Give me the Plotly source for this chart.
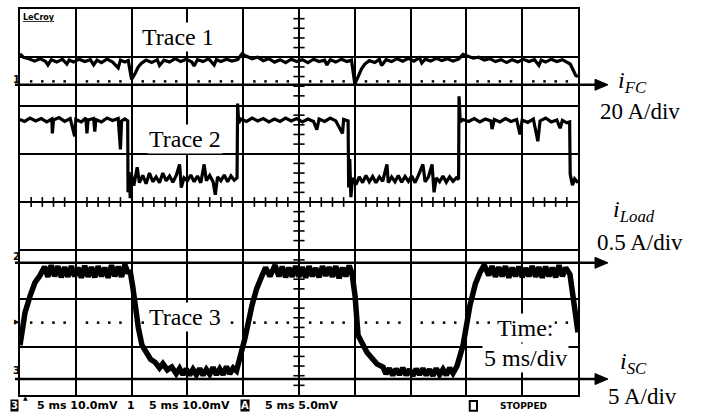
import plotly.graph_objects as go

# ---- data (time in ms, vertical position in scope divisions) ----
TRACE1 = [(0, 3.07), (0.3, 3.00), (0.8, 2.97), (1.3, 2.92), (1.8, 2.97), (2.3, 2.91), (2.5, 2.84), (2.8, 2.95),
          (3.3, 2.90), (3.8, 2.96), (4.2, 2.86), (4.4, 2.94), (4.8, 2.90), (5.3, 2.96), (5.8, 2.91), (6.3, 2.95),
          (6.6, 2.84), (6.9, 2.94), (7.3, 2.89), (7.8, 2.96), (8.3, 2.90), (8.8, 2.78), (9.0, 2.94), (9.4, 2.90),
          (9.7, 2.93), (10.0, 2.54), (10.3, 2.66), (10.6, 2.80), (10.9, 2.88), (11.3, 2.94), (11.8, 2.89),
          (12.3, 2.95), (12.5, 2.83), (12.9, 2.94), (13.4, 2.90), (13.9, 2.97), (14.4, 2.91), (14.9, 2.96),
          (15.4, 2.90), (15.6, 2.82), (15.9, 2.95), (16.4, 2.91), (16.9, 2.97), (17.4, 2.84), (17.6, 2.95),
          (18.0, 2.91), (18.5, 2.96), (19.0, 2.92), (19.5, 2.95), (19.9, 3.07), (20.3, 3.02), (20.8, 2.97),
          (21.3, 3.00), (21.8, 2.93), (22.3, 2.97), (22.8, 2.90), (23.3, 2.95), (23.8, 2.89), (24.3, 2.96),
          (24.8, 2.91), (25.3, 2.95), (25.8, 2.89), (26.3, 2.96), (26.8, 2.91), (27.3, 2.94), (27.5, 2.84),
          (27.8, 2.95), (28.3, 2.90), (28.8, 2.96), (29.3, 2.91), (29.7, 2.94), (30.0, 2.45), (30.3, 2.60),
          (30.6, 2.76), (30.9, 2.86), (31.3, 2.93), (31.8, 2.89), (32.2, 2.96), (32.4, 2.83), (32.8, 2.95),
          (33.3, 2.91), (33.8, 2.97), (34.3, 2.92), (34.8, 2.98), (35.3, 2.92), (35.8, 2.99), (36.0, 2.88),
          (36.3, 2.96), (36.8, 2.92), (37.3, 2.98), (37.8, 2.93), (38.3, 2.97), (38.8, 2.92), (39.3, 2.96),
          (39.7, 3.06), (40.1, 3.03), (40.6, 2.98), (41.1, 3.00), (41.6, 2.94), (42.1, 2.97), (42.6, 2.91),
          (43.1, 2.95), (43.6, 2.89), (44.1, 2.95), (44.6, 2.90), (45.1, 2.96), (45.6, 2.91), (46.1, 2.95),
          (46.5, 2.83), (46.7, 2.94), (47.1, 2.90), (47.6, 2.96), (48.1, 2.91), (48.6, 2.95), (49.0, 2.90),
          (49.3, 2.86), (49.6, 2.72), (49.8, 2.62), (50.0, 2.60)]

TRACE2 = [(0, 1.71), (0.4, 1.67), (0.9, 1.74), (1.4, 1.68), (1.9, 1.73), (2.4, 1.66), (2.85, 1.72), (2.9, 1.42),
          (3.0, 1.70), (3.5, 1.75), (4.0, 1.67), (4.5, 1.73), (4.9, 1.36), (5.0, 1.71), (5.5, 1.66), (5.9, 1.74),
          (6.0, 1.42), (6.1, 1.70), (6.6, 1.73), (6.7, 1.46), (6.8, 1.71), (7.3, 1.66), (7.8, 1.74), (8.3, 1.69),
          (8.8, 1.73), (9.0, 1.09), (9.1, 1.68), (9.4, 1.72), (9.65, 1.68),
          (9.68, 0.20), (9.78, 0.62), (9.88, 0.08), (10.0, 0.55), (10.2, 0.34), (10.5, 0.72), (10.7, 0.40),
          (11.0, 0.55), (11.3, 0.38), (11.6, 0.60), (11.9, 0.42), (12.2, 0.52), (12.5, 0.40), (12.8, 0.60),
          (13.1, 0.44), (13.4, 0.54), (13.7, 0.41), (14.0, 0.55), (14.3, 0.78), (14.45, 0.30), (14.7, 0.50),
          (15.0, 0.44), (15.3, 0.56), (15.6, 0.42), (15.9, 0.54), (16.2, 0.40), (16.5, 0.78), (16.7, 0.44),
          (17.0, 0.55), (17.3, 0.42), (17.5, 0.15), (17.7, 0.52), (18.0, 0.44), (18.3, 0.56), (18.6, 0.42),
          (18.9, 0.54), (19.2, 0.45), (19.45, 0.50),
          (19.5, 2.04), (19.6, 1.64), (19.8, 1.72), (20.3, 1.67), (20.8, 1.74), (21.3, 1.68), (21.8, 1.73),
          (22.3, 1.66), (22.8, 1.72), (23.3, 1.67), (23.8, 1.74), (24.3, 1.68), (24.8, 1.73), (25.3, 1.66),
          (25.8, 1.72), (26.3, 1.67), (26.6, 1.50), (26.8, 1.72), (27.3, 1.67), (27.8, 1.74), (28.3, 1.68),
          (28.9, 1.42), (29.0, 1.71), (29.4, 1.68),
          (29.45, 0.30), (29.55, 0.89), (29.65, 0.10), (29.8, 0.50), (30.1, 0.36), (30.4, 0.52), (30.7, 0.40),
          (31.0, 0.55), (31.3, 0.42), (31.6, 0.53), (31.9, 0.40), (32.2, 0.52), (32.5, 0.43), (32.88, 0.78),
          (33.0, 0.40), (33.3, 0.52), (33.6, 0.42), (33.9, 0.55), (34.2, 0.41), (34.5, 0.53), (34.8, 0.43),
          (35.1, 0.54), (35.4, 0.40), (35.7, 0.55), (36.1, 0.78), (36.3, 0.42), (36.6, 0.52), (36.92, 0.78),
          (37.1, 0.20), (37.3, 0.50), (37.6, 0.42), (37.9, 0.54), (38.2, 0.41), (38.5, 0.52), (38.8, 0.43),
          (39.1, 0.50), (39.3, 0.47),
          (39.34, 2.19), (39.45, 1.66), (39.7, 1.71), (40.2, 1.67), (40.7, 1.73), (41.2, 1.66), (41.7, 1.72),
          (42.2, 1.68), (42.3, 1.51), (42.5, 1.71), (43.0, 1.66), (43.5, 1.73), (44.0, 1.67), (44.5, 1.71),
          (44.8, 1.40), (45.0, 1.70), (45.5, 1.65), (46.0, 1.72), (46.4, 1.26), (46.6, 1.68), (47.1, 1.74),
          (47.6, 1.66), (48.1, 1.70), (48.4, 1.53), (48.6, 1.69), (49.0, 1.64), (49.25, 1.66),
          (49.3, 0.58), (49.5, 0.35), (49.7, 0.48), (50.0, 0.40)]

TRACE3 = [(0, -2.97), (0.45, -2.29), (0.9, -1.95), (1.34, -1.67), (1.8, -1.52), (2.2, -1.34), (2.5, -1.55),
          (2.8, -1.31), (3.1, -1.54), (3.4, -1.33), (3.7, -1.56), (4.0, -1.35), (4.3, -1.55), (4.6, -1.33),
          (4.9, -1.54), (5.2, -1.36), (5.5, -1.57), (5.8, -1.32), (6.1, -1.55), (6.4, -1.35), (6.7, -1.56),
          (7.0, -1.33), (7.3, -1.54), (7.6, -1.36), (7.9, -1.57), (8.2, -1.31), (8.5, -1.54), (8.8, -1.34),
          (9.1, -1.55), (9.4, -1.30), (9.7, -1.48), (9.86, -1.42),
          (10.1, -1.75), (10.3, -2.14), (10.6, -2.60), (10.93, -2.97), (11.3, -3.10), (11.7, -3.26),
          (12.1, -3.32), (12.5, -3.44), (12.8, -3.35), (13.2, -3.48), (13.6, -3.42), (14.0, -3.56),
          (14.3, -3.45), (14.6, -3.58), (14.9, -3.46), (15.2, -3.59), (15.5, -3.47), (15.8, -3.58),
          (16.1, -3.45), (16.4, -3.59), (16.7, -3.47), (17.0, -3.57), (17.3, -3.43), (17.6, -3.58),
          (17.9, -3.46), (18.2, -3.58), (18.5, -3.41), (18.8, -3.56), (19.1, -3.44), (19.4, -3.50),
          (19.53, -3.38), (20.16, -2.82), (20.79, -2.14), (21.2, -1.80), (21.68, -1.53), (22.0, -1.36),
          (22.4, -1.54), (22.85, -1.31), (23.2, -1.54), (23.5, -1.34), (23.8, -1.56), (24.1, -1.36),
          (24.4, -1.55), (24.7, -1.33), (25.0, -1.55), (25.3, -1.35), (25.6, -1.57), (25.9, -1.33),
          (26.2, -1.54), (26.5, -1.37), (26.8, -1.56), (27.1, -1.33), (27.4, -1.53), (27.7, -1.35),
          (28.0, -1.55), (28.3, -1.33), (28.6, -1.58), (28.9, -1.36), (29.2, -1.54), (29.5, -1.32),
          (29.75, -1.48),
          (30.02, -1.94), (30.29, -2.76), (30.73, -2.97), (31.1, -3.12), (31.54, -3.24), (32.0, -3.36),
          (32.53, -3.42), (32.8, -3.56), (33.1, -3.45), (33.4, -3.59), (33.7, -3.46), (34.0, -3.58),
          (34.3, -3.44), (34.6, -3.59), (34.9, -3.47), (35.2, -3.60), (35.5, -3.46), (35.8, -3.58),
          (36.1, -3.45), (36.4, -3.59), (36.7, -3.47), (37.0, -3.60), (37.3, -3.45), (37.6, -3.58),
          (37.9, -3.47), (38.2, -3.59), (38.5, -3.44), (38.8, -3.55), (39.16, -3.40),
          (39.70, -2.97), (40.32, -2.14), (40.8, -1.70), (41.22, -1.46), (41.6, -1.31), (42.0, -1.52),
          (42.3, -1.33), (42.6, -1.55), (42.9, -1.35), (43.2, -1.54), (43.5, -1.33), (43.8, -1.57),
          (44.1, -1.36), (44.4, -1.54), (44.7, -1.34), (45.0, -1.56), (45.3, -1.37), (45.6, -1.54),
          (45.9, -1.33), (46.2, -1.55), (46.5, -1.35), (46.8, -1.57), (47.1, -1.34), (47.4, -1.54),
          (47.7, -1.36), (48.0, -1.56), (48.3, -1.31), (48.6, -1.54), (48.9, -1.36), (49.28, -1.50),
          (49.73, -2.29), (50.0, -2.70)]

TRACE_LABELS = ["Trace 1", "Trace 2", "Trace 3"]
LABEL_POS = [(14.16, 3.42), (14.78, 1.30), (14.78, -2.39)]
REF_LEVELS = [2.5, -2.5]                # dotted channel reference rows
ARROW_LEVELS = [2.43, -1.26, -3.67]     # signal marker lines
SIGNAL_NAMES = ["<i>i<sub>FC</sub></i>", "<i>i<sub>Load</sub></i>", "<i>i<sub>SC</sub></i>"]
SCALES = ["20 A/div", "0.5 A/div", "5 A/div"]
STATUS = ["5 ms 10.0mV", "5 ms 10.0mV", "5 ms 5.0mV", "STOPPED"]

SERIF = "Liberation Serif, Times New Roman, serif"
SANSB = "DejaVu Sans, sans-serif"

fig = go.Figure()

# dotted reference rows
dot_x = [m for m in range(1, 50) if m % 5 != 0]
for lv in REF_LEVELS:
    fig.add_trace(go.Scatter(x=dot_x, y=[lv] * len(dot_x), mode="markers",
                             marker=dict(symbol="square", size=2.5, color="black"),
                             hoverinfo="skip", showlegend=False))
# minor ticks on centre axes
fig.add_trace(go.Scatter(x=dot_x, y=[0] * len(dot_x), mode="markers",
                         marker=dict(symbol="line-ns", size=7, line=dict(width=1.6, color="black")),
                         hoverinfo="skip", showlegend=False))
tick_y = [round(-4 + 0.2 * k, 2) for k in range(1, 40) if k % 5 != 0]
fig.add_trace(go.Scatter(x=[25] * len(tick_y), y=tick_y, mode="markers",
                         marker=dict(symbol="line-ew", size=8, line=dict(width=1.6, color="black")),
                         hoverinfo="skip", showlegend=False))

for pts, w in [(TRACE1, 3.2), (TRACE2, 3.2), (TRACE3, 5.5)]:
    tx, ty = zip(*pts)
    fig.add_trace(go.Scatter(x=list(tx), y=list(ty), mode="lines",
                             line=dict(color="black", width=w), hoverinfo="skip", showlegend=False))


def label(x, y, text, font, xref="paper", yref="paper", xanchor="center", **kw):
    return dict(x=x, y=y, xref=xref, yref=yref, text=text, showarrow=False,
                xanchor=xanchor, yanchor="middle", font=font, **kw)


big = dict(family=SERIF, size=24, color="black")
ann = []
for txt, (lx, ly) in zip(TRACE_LABELS, LABEL_POS):
    ann.append(label(lx, ly, txt, big, xref="x", yref="y", bgcolor="white", borderpad=1))
ann.append(label(45.25, -2.62, "Time:", big, xref="x", yref="y", bgcolor="white", borderpad=1))
ann.append(label(45.34, -3.24, "5 ms/div", big, xref="x", yref="y", bgcolor="white", borderpad=1))

# marker arrows (shaft + head), drawn in paper space
shapes = []
for lv in ARROW_LEVELS:
    yp = (lv + 4) / 8.0
    shapes.append(dict(type="line", xref="paper", yref="paper", x0=-0.009, x1=1.035, y0=yp, y1=yp,
                       line=dict(color="black", width=2.5)))
    shapes.append(dict(type="path", xref="paper", yref="paper",
                       path="M1.0305,%.4f L1.0538,%.4f L1.0305,%.4f Z" % (yp + 0.0142, yp, yp - 0.0142),
                       fillcolor="black", line=dict(color="black", width=1)))
# "D" status box
shapes.append(dict(type="rect", xref="paper", yref="paper", x0=0.806, x1=0.819, y0=-0.041, y1=-0.0155,
                   line=dict(color="black", width=2), fillcolor="white"))

name_pos = [(1.097, 0.812), (1.100, 0.477), (1.099, 0.082)]
scale_pos = [(1.111, 0.735), (1.111, 0.394), (1.115, -0.005)]
for nm, (nx, ny) in zip(SIGNAL_NAMES, name_pos):
    ann.append(label(nx, ny, nm, big))
for sc, (sx, sy_) in zip(SCALES, scale_pos):
    ann.append(label(sx, sy_, sc, dict(family=SERIF, size=23, color="black")))

# scope screen annotations
ann.append(label(0.002, 0.977, "<b><u>LeCroy</u></b>", dict(family=SANSB, size=8, color="black"), xanchor="left"))
for t, yp in [("<b>1</b>", 0.817), ("<b>2</b>", 0.358), ("<b>3</b>", 0.064)]:
    ann.append(label(-0.006, yp, t, dict(family=SANSB, size=10, color="black")))
ann.append(label(-0.006, 0.188, "▶", dict(family=SANSB, size=7, color="black")))
ann.append(label(0.009, -0.006, "▲", dict(family=SANSB, size=6, color="black")))

sy = -0.028
small = dict(family=SANSB, size=11, color="black")
inv = dict(family=SANSB, size=10, color="white")
ann.append(label(-0.009, sy, "<b>3</b>", inv, bgcolor="black", borderpad=0))
ann.append(label(0.0269, sy, "<b>%s</b>" % STATUS[0], small, xanchor="left"))
ann.append(label(0.199, sy, "<b>1</b>", small))
ann.append(label(0.2276, sy, "<b>%s</b>" % STATUS[1], small, xanchor="left"))
ann.append(label(0.403, sy, "<b>A</b>", inv, bgcolor="black", borderpad=0))
ann.append(label(0.4355, sy, "<b>%s</b>" % STATUS[2], small, xanchor="left"))
ann.append(label(0.857, sy, "<b>%s</b>" % STATUS[3], dict(family=SANSB, size=9, color="black"), xanchor="left"))

axis_common = dict(showgrid=True, gridcolor="black", gridwidth=2, showticklabels=False, ticks="",
                   showline=True, linecolor="black", linewidth=2, mirror=True, zeroline=False, fixedrange=True)
fig.update_layout(
    width=709, height=416, autosize=False,
    margin=dict(l=20, r=131, t=7, b=21),
    paper_bgcolor="white", plot_bgcolor="white",
    xaxis=dict(range=[0, 50], dtick=5, tick0=0, **axis_common),
    yaxis=dict(range=[-4, 4], dtick=1, tick0=0, **axis_common),
    annotations=ann,
    shapes=shapes,
    showlegend=False,
)
fig.write_html("out.html", config={"displayModeBar": False},
               post_script="document.body.style.margin='0';")
